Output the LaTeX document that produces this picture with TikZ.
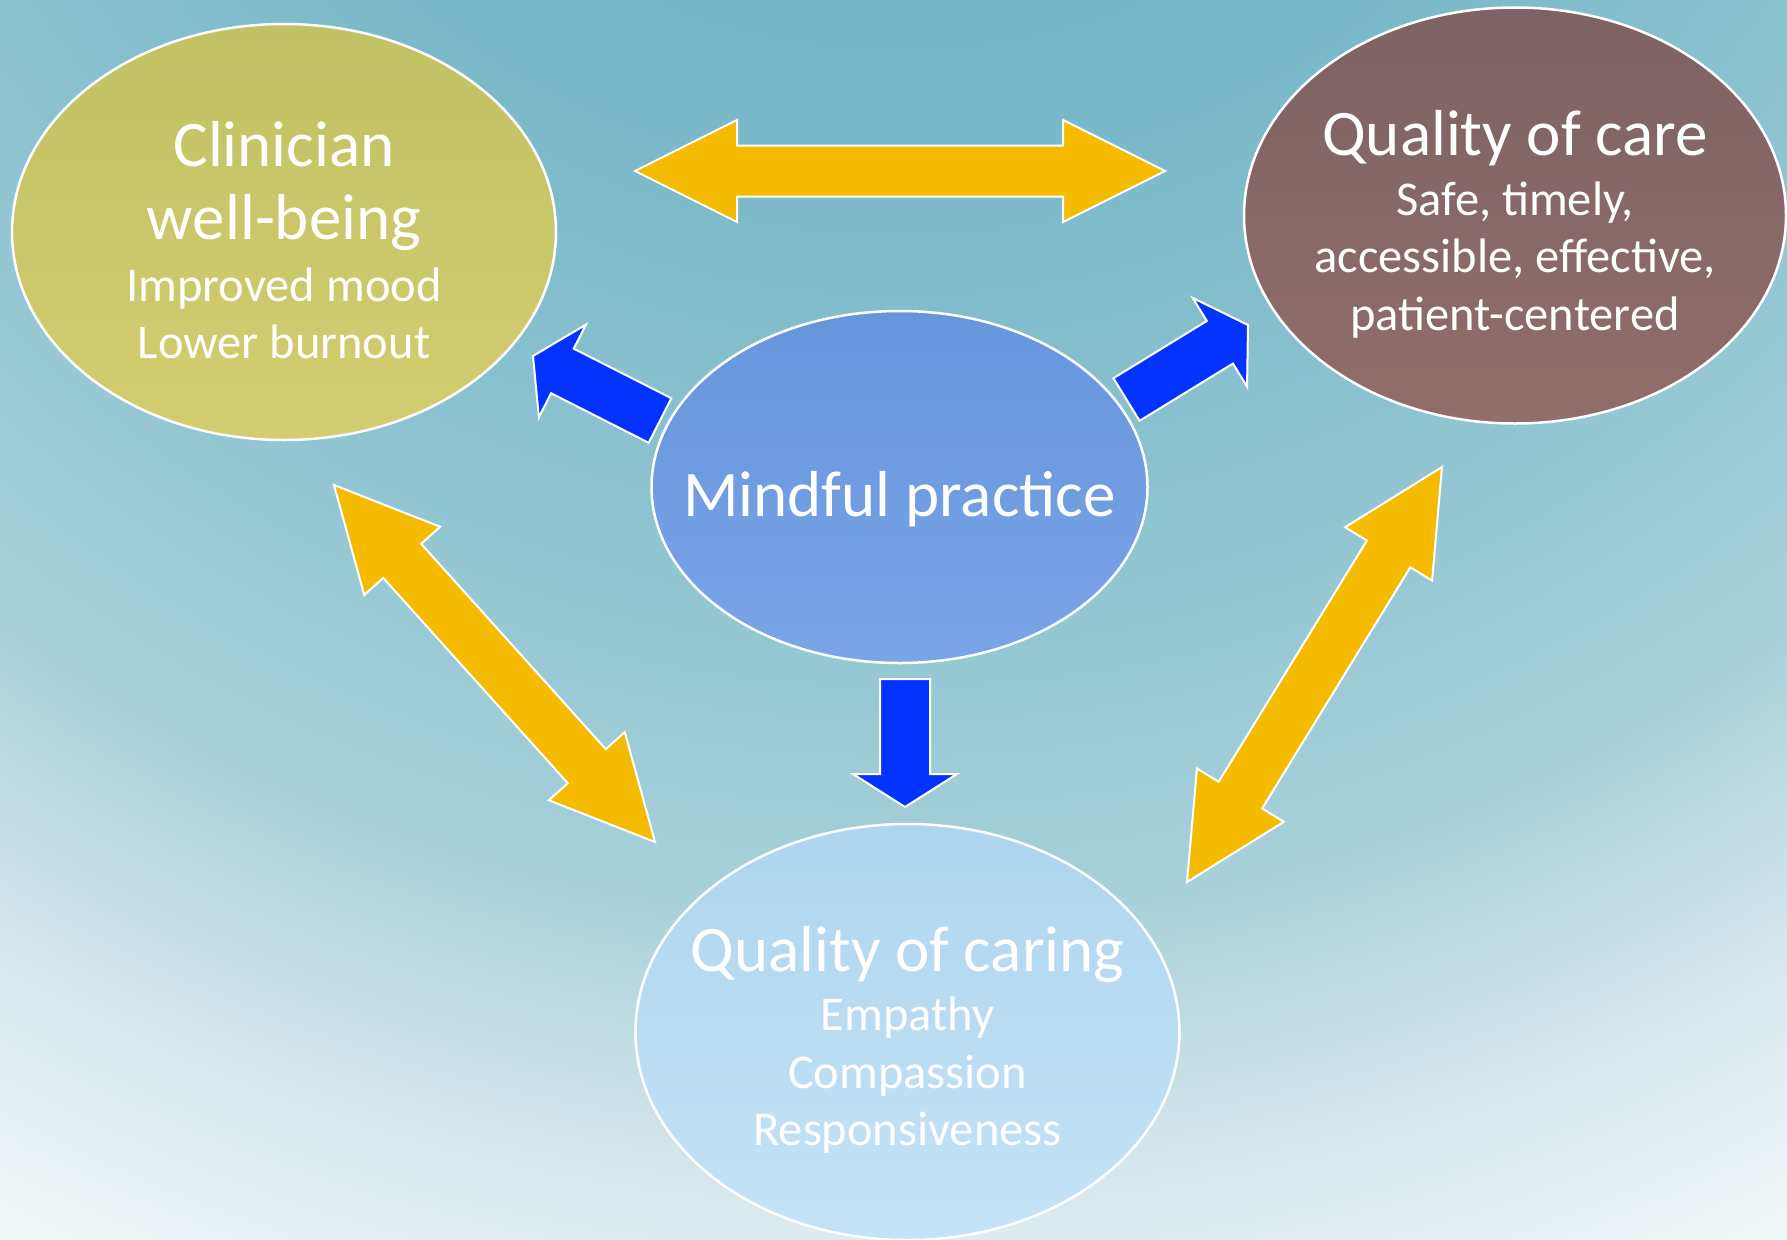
\documentclass[tikz,border=0pt]{standalone}
\usepackage{fontspec}
\setmainfont{Carlito}
\usetikzlibrary{calc,shapes.geometric}

\definecolor{bgtop}{HTML}{72B5C7}
\definecolor{bgupper}{HTML}{89C1CF}
\definecolor{bgmid}{HTML}{A7D0DA}
\definecolor{bglower}{HTML}{DBEAEF}
\definecolor{bgbottom}{HTML}{F0F6F8}
\definecolor{wellA}{HTML}{C0C264}
\definecolor{wellB}{HTML}{D3CD70}
\definecolor{careA}{HTML}{7E6264}
\definecolor{careB}{HTML}{916D6B}
\definecolor{mindA}{HTML}{6596DC}
\definecolor{mindB}{HTML}{7BA4E6}
\definecolor{caringA}{HTML}{AED5EE}
\definecolor{caringB}{HTML}{C5E3F7}
\definecolor{arrowgold}{HTML}{F4BB00}
\definecolor{arrowblue}{HTML}{0433FF}

% radial backdrop, 25bp is the radius of the shaded circle
\pgfdeclareradialshading{backdrop}{\pgfpoint{0bp}{0bp}}{%
  color(0bp)=(bgtop); color(7.1bp)=(bgtop); color(12.8bp)=(bgupper);
  color(17.9bp)=(bgmid); color(21.7bp)=(bglower); color(24.1bp)=(bgbottom);
  color(50bp)=(bgbottom)}

% big first lines; optional extra room above the line
\newcommand{\headtxt}[2][0pt]{{\fontsize{65}{73}\selectfont
  \raisebox{0pt}[\dimexpr\height+#1\relax]{#2}}}
% block arrow sizes: head length, head half width, shaft half width
\newcommand{\yhead}{102pt}
\newcommand{\yhw}{51pt}
\newcommand{\ysw}{25.5pt}
\newcommand{\bhead}{33pt}
\newcommand{\bhw}{52pt}
\newcommand{\bsw}{25pt}

% two-headed block arrow between two tips
\newcommand{\twowayarrow}[2]{%
  \path ($(#1)!\yhead!(#2)$) coordinate (ha) ($(#2)!\yhead!(#1)$) coordinate (hb);
  \filldraw[goldarrow] (#1)
    -- ($(ha)!\yhw!90:(#2)$) -- ($(ha)!\ysw!90:(#2)$)
    -- ($(hb)!\ysw!-90:(#1)$) -- ($(hb)!\yhw!-90:(#1)$)
    -- (#2)
    -- ($(hb)!\yhw!90:(#1)$) -- ($(hb)!\ysw!90:(#1)$)
    -- ($(ha)!\ysw!-90:(#2)$) -- ($(ha)!\yhw!-90:(#2)$) -- cycle;}

% one-headed block arrow from tail to tip
\newcommand{\onewayarrow}[2]{%
  \path ($(#2)!\bhead!(#1)$) coordinate (hb);
  \filldraw[bluearrow] ($(#1)!\bsw!90:(#2)$)
    -- ($(hb)!\bsw!-90:(#1)$) -- ($(hb)!\bhw!-90:(#1)$)
    -- (#2)
    -- ($(hb)!\bhw!90:(#1)$) -- ($(hb)!\bsw!90:(#1)$)
    -- ($(#1)!\bsw!-90:(#2)$) -- cycle;}

\begin{document}
\begin{tikzpicture}[x=1pt, y=-1pt,
  every node/.style={font=\fontsize{48.5}{57.5}\selectfont, text=white},
  bubble/.style={ellipse, draw=white, line width=2.5pt, align=center,
    inner xsep=-50pt, inner ysep=0pt, minimum width=544pt, minimum height=416pt},
  goldarrow/.style={fill=arrowgold, draw=white, line width=2pt},
  bluearrow/.style={fill=arrowblue, draw=white, line width=2pt}]
  \useasboundingbox (0,0) rectangle (1787,1239);

  % backdrop
  \begin{scope}
    \clip (0,0) rectangle (1787,1239);
    \shade[shading=backdrop] (900,-600) circle (2100);
  \end{scope}

  \node[bubble, top color=wellA, bottom color=wellB] (well) at (284,232)
    {\headtxt[16pt]{Clinician}\\[16pt]\headtxt{well-being}\\[4pt] Improved mood\\ Lower burnout};
  \node[bubble, top color=careA, bottom color=careB, minimum width=542pt] (care) at (1515,215.5)
    {\headtxt[18pt]{Quality of care}\\[2pt] Safe, timely,\\ accessible, effective,\\ patient-centered};
  \node[bubble, top color=mindA, bottom color=mindB, minimum width=496pt, minimum height=352pt] (mind) at (899.5,487)
    {\headtxt[24pt]{Mindful practice}};
  \node[bubble, top color=caringA, bottom color=caringB] (caring) at (907.5,1032)
    {\headtxt[16pt]{Quality of caring}\\[2pt] Empathy\\ Compassion\\ Responsiveness};

  % arrow ends
  \coordinate (well-care) at (635,171);
  \coordinate (care-well) at (1165,171);
  \coordinate (well-caring) at (334,485);
  \coordinate (caring-well) at (655,842);
  \coordinate (care-caring) at (1442,467);
  \coordinate (caring-care) at (1187,882);
  \coordinate (mind-w) at (660,420.5);
  \coordinate (to-well) at (533,356);
  \coordinate (mind-e) at (1126.5,399.5);
  \coordinate (to-care) at (1248,325);
  \coordinate (mind-s) at (905,679);
  \coordinate (to-caring) at (905,807);

  \twowayarrow{well-care}{care-well}
  \twowayarrow{well-caring}{caring-well}
  \twowayarrow{care-caring}{caring-care}

  \onewayarrow{mind-w}{to-well}
  \onewayarrow{mind-e}{to-care}
  \onewayarrow{mind-s}{to-caring}
\end{tikzpicture}
\end{document}
